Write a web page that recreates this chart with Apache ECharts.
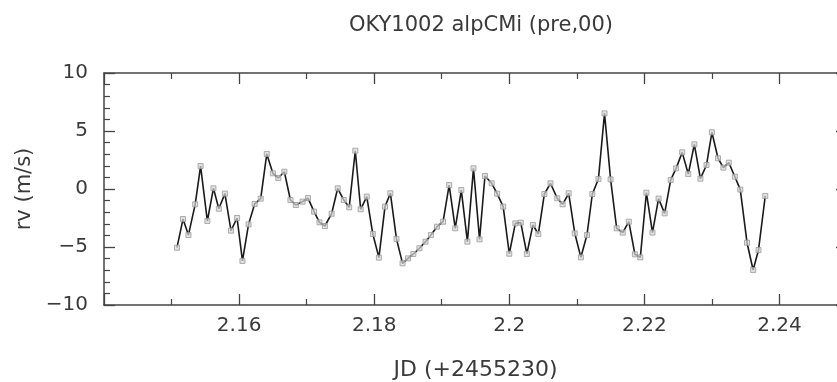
<!DOCTYPE html>
<html>
<head>
<meta charset="utf-8">
<script src="https://cdn.jsdelivr.net/npm/echarts@6/dist/echarts.min.js"></script>
<style>html,body{margin:0;padding:0;background:#fff;}#c{width:837px;height:382px;}</style>
</head>
<body>
<div id="c"></div>
<script>
const titleText = 'OKY1002 alpCMi (pre,00)';
const xName = 'JD (+2455230)';
const yName = 'rv (m/s)';
const jd = [2.1508,2.1517,2.1525,2.1535,2.1543,2.1553,2.1562,2.1570,2.1579,2.1588,2.1597,2.1605,2.1614,2.1623,2.1632,2.1641,2.1650,2.1658,2.1667,2.1676,2.1684,2.1694,2.1702,2.1711,2.1719,2.1727,2.1737,2.1746,2.1755,2.1763,2.1772,2.1780,2.1789,2.1798,2.1807,2.1816,2.1824,2.1833,2.1842,2.1850,2.1858,2.1867,2.1876,2.1884,2.1893,2.1902,2.1911,2.1920,2.1929,2.1938,2.1947,2.1956,2.1964,2.1974,2.1982,2.1991,2.2000,2.2009,2.2017,2.2026,2.2035,2.2043,2.2052,2.2061,2.2071,2.2079,2.2088,2.2097,2.2106,2.2115,2.2123,2.2132,2.2141,2.2150,2.2159,2.2168,2.2177,2.2186,2.2194,2.2203,2.2212,2.2221,2.2230,2.2239,2.2247,2.2256,2.2265,2.2274,2.2283,2.2292,2.2300,2.2309,2.2317,2.2325,2.2334,2.2342,2.2352,2.2361,2.2369,2.2379];
const rv = [-5.06,-2.59,-3.97,-1.32,1.98,-2.76,0.06,-1.70,-0.40,-3.59,-2.50,-6.20,-3.05,-1.29,-0.83,3.02,1.35,0.95,1.49,-0.95,-1.38,-1.09,-0.78,-1.95,-2.87,-3.19,-2.13,0.06,-0.95,-1.58,3.30,-1.75,-0.66,-3.88,-5.92,-1.52,-0.37,-4.30,-6.41,-5.98,-5.60,-5.11,-4.54,-3.97,-3.25,-2.82,0.34,-3.39,-0.09,-4.54,1.78,-4.34,1.12,0.49,-0.40,-1.52,-5.58,-2.96,-2.90,-5.60,-3.10,-3.88,-0.43,0.49,-0.80,-1.32,-0.37,-3.82,-5.89,-3.97,-0.43,0.86,6.52,0.83,-3.39,-3.76,-2.82,-5.63,-5.89,-0.32,-3.76,-0.83,-2.10,0.78,1.78,3.16,1.29,3.85,0.89,2.07,4.89,2.65,1.84,2.27,1.06,-0.05,-4.63,-6.98,-5.26,-0.60];
const xMin = 2.14, xMax = 2.25, xStep = 0.02;
const yMin = -10, yMax = 10, yStep = 5;

const font = 'DejaVu Sans';
const txt = '#3a3a3a';
const axCol = '#444';
const axisLine = {show:true, onZero:false, lineStyle:{color:axCol, width:1.5}};
const xTicks = {show:true, inside:true, length:11, lineStyle:{color:axCol, width:1.3}};
const xMinor = {show:true, splitNumber:2, length:6, lineStyle:{color:axCol, width:1.2}};
const yTicks = {show:true, inside:true, length:11, lineStyle:{color:axCol, width:1.3}};
const yMinor = {show:true, splitNumber:5, length:6, lineStyle:{color:axCol, width:1.2}};
const fmtX = v => (v < xMin + 0.005 || v > xMax - 0.005) ? '' : String(parseFloat(v.toFixed(2)));
const fmtY = v => String(v).replace('-', '\u2212');

const chart = echarts.init(document.getElementById('c'), null, {renderer:'canvas'});
chart.setOption({
  animation:false,
  backgroundColor:'#fff',
  title:{text:titleText, left:476, top:10, textAlign:'center',
    textStyle:{fontFamily:font, fontSize:21, fontWeight:'normal', color:txt}},
  grid:{left:104, top:73, width:743, height:232, outerBoundsMode:'none', containLabel:false},
  xAxis:[{
    type:'value', position:'bottom', min:xMin, max:xMax, interval:xStep,
    name:xName, nameLocation:'middle', nameGap:54,
    nameTextStyle:{fontFamily:font, fontSize:22, color:txt},
    axisLine:axisLine, axisTick:xTicks, minorTick:xMinor, splitLine:{show:false},
    axisLabel:{formatter:fmtX, margin:11, fontFamily:font, fontSize:20, color:txt}
  },{
    type:'value', position:'top', min:xMin, max:xMax, interval:xStep,
    axisLine:axisLine, axisTick:xTicks, minorTick:xMinor, splitLine:{show:false},
    axisLabel:{show:false}
  }],
  yAxis:[{
    type:'value', position:'left', min:yMin, max:yMax, interval:yStep,
    name:yName, nameLocation:'middle', nameGap:68, nameRotate:90,
    nameTextStyle:{fontFamily:font, fontSize:21, color:txt},
    axisLine:axisLine, axisTick:yTicks, minorTick:yMinor, splitLine:{show:false},
    axisLabel:{formatter:fmtY, margin:16, fontFamily:font, fontSize:20, color:txt}
  },{
    type:'value', position:'right', min:yMin, max:yMax, interval:yStep,
    axisLine:axisLine, axisTick:yTicks, minorTick:yMinor, splitLine:{show:false},
    axisLabel:{show:false}
  }],
  series:[{
    type:'line', xAxisIndex:0, yAxisIndex:0,
    data: jd.map((x,i)=>[x, rv[i]]),
    lineStyle:{color:'#1a1a1a', width:1.6},
    symbol:'rect', symbolSize:5, showAllSymbol:true,
    itemStyle:{color:'rgba(215,215,215,0.7)', borderColor:'#999', borderWidth:0.8}
  }]
});
</script>
</body>
</html>
